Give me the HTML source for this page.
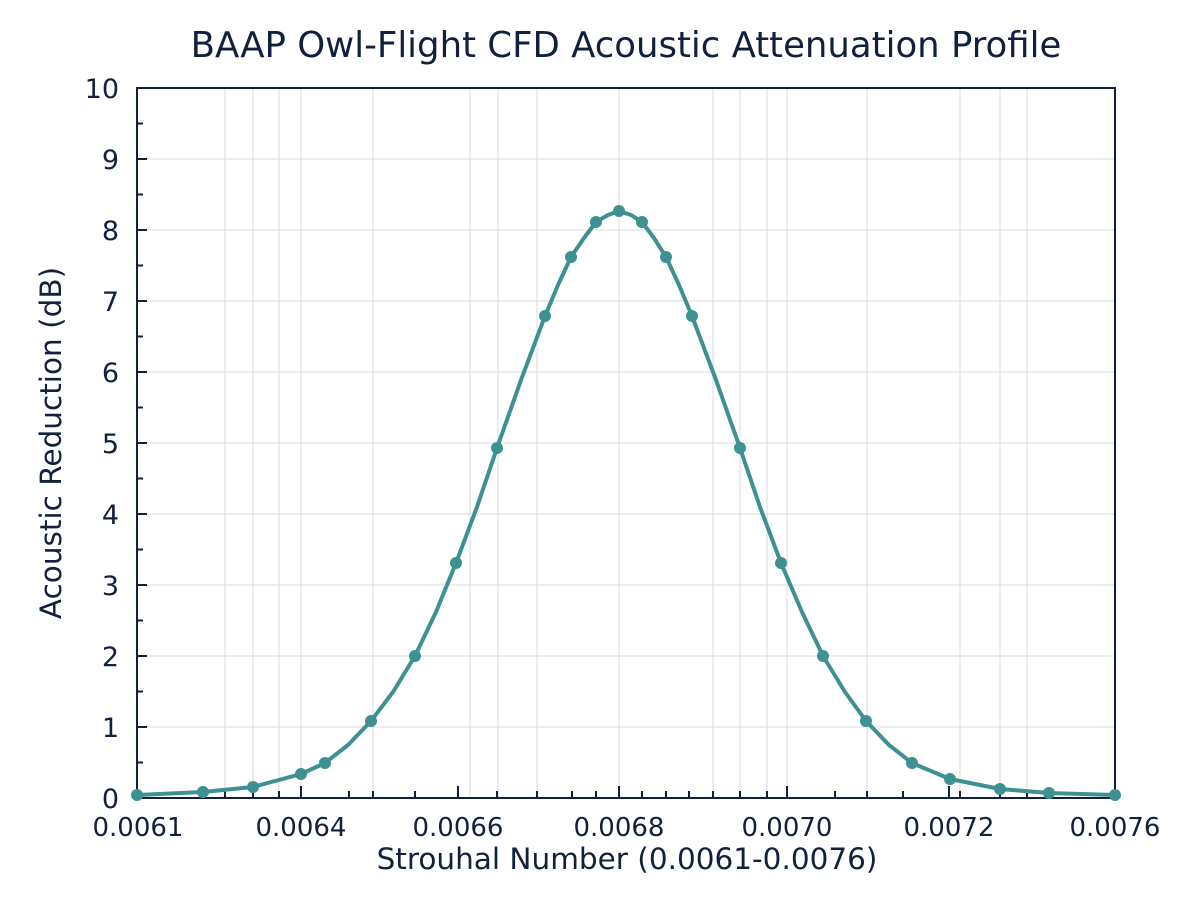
<!DOCTYPE html>
<html><head><meta charset="utf-8"><style>body{margin:0;background:#fff}</style></head><body>
<svg width="1200" height="896" xmlns="http://www.w3.org/2000/svg" font-family="DejaVu Sans, Liberation Sans, sans-serif">
<rect width="1200" height="896" fill="#fff"/>
<g stroke="#d5dde2" stroke-width="1">
<line x1="225" y1="88" x2="225" y2="798"/><line x1="253" y1="88" x2="253" y2="798"/><line x1="279" y1="88" x2="279" y2="798"/><line x1="301" y1="88" x2="301" y2="798"/><line x1="373" y1="88" x2="373" y2="798"/><line x1="470" y1="88" x2="470" y2="798"/><line x1="498" y1="88" x2="498" y2="798"/><line x1="537" y1="88" x2="537" y2="798"/><line x1="619" y1="88" x2="619" y2="798"/><line x1="713" y1="88" x2="713" y2="798"/><line x1="740" y1="88" x2="740" y2="798"/><line x1="767" y1="88" x2="767" y2="798"/><line x1="787" y1="88" x2="787" y2="798"/><line x1="867" y1="88" x2="867" y2="798"/><line x1="960" y1="88" x2="960" y2="798"/><line x1="1000" y1="88" x2="1000" y2="798"/><line x1="1027" y1="88" x2="1027" y2="798"/>
<line x1="137" y1="727" x2="1115" y2="727"/><line x1="137" y1="656" x2="1115" y2="656"/><line x1="137" y1="585" x2="1115" y2="585"/><line x1="137" y1="514" x2="1115" y2="514"/><line x1="137" y1="443" x2="1115" y2="443"/><line x1="137" y1="372" x2="1115" y2="372"/><line x1="137" y1="301" x2="1115" y2="301"/><line x1="137" y1="230" x2="1115" y2="230"/><line x1="137" y1="159" x2="1115" y2="159"/>
</g>
<rect x="137" y="88" width="978" height="710" fill="none" stroke="#13203d" stroke-width="2"/>
<g stroke="#13203d" stroke-width="2">
<path d="M137 798v-12M301 798v-12M458 798v-12M619 798v-12M787 798v-12M949 798v-12M1115 798v-12"/>
<path d="M203 798v-7M225 798v-7M253 798v-7M279 798v-7M349 798v-7M373 798v-7M415 798v-7M497 798v-7M537 798v-7M572 798v-7M596 798v-7M642 798v-7M666 798v-7M689 798v-7M713 798v-7M740 798v-7M767 798v-7M835 798v-7M867 798v-7M903 798v-7M960 798v-7M1000 798v-7M1027 798v-7"/>
<path d="M137 798h10M137 727h10M137 656h10M137 585h10M137 514h10M137 443h10M137 372h10M137 301h10M137 230h10M137 159h10M137 88h10"/>
<path d="M137 762.5h6M137 691.5h6M137 620.5h6M137 549.5h6M137 478.5h6M137 407.5h6M137 336.5h6M137 265.5h6M137 194.5h6M137 123.5h6"/>
</g>
<g fill="#13203d" font-size="27" text-anchor="end">
<text x="119" y="808">0</text><text x="119" y="737">1</text><text x="119" y="666">2</text><text x="119" y="595">3</text><text x="119" y="524">4</text><text x="119" y="453">5</text><text x="119" y="382">6</text><text x="119" y="311">7</text><text x="119" y="240">8</text><text x="119" y="169">9</text><text x="119" y="98">10</text>
</g>
<g fill="#13203d" font-size="26" text-anchor="middle">
<text x="138" y="836">0.0061</text><text x="301" y="836">0.0064</text><text x="458" y="836">0.0066</text><text x="619" y="836">0.0068</text><text x="787" y="836">0.0070</text><text x="949" y="836">0.0072</text><text x="1115" y="836">0.0076</text>
</g>
<text x="627" y="869" fill="#13203d" font-size="29.5" text-anchor="middle">Strouhal Number (0.0061-0.0076)</text>
<text transform="translate(61,443) rotate(-90)" fill="#13203d" font-size="29.5" text-anchor="middle">Acoustic Reduction (dB)</text>
<text x="626" y="57" fill="#13203d" font-size="35.5" text-anchor="middle">BAAP Owl-Flight CFD Acoustic Attenuation Profile</text>
<polyline fill="none" stroke="#3e9190" stroke-width="4" stroke-linejoin="round" points="137,795 203,792 253,787 301,774 325,763 348,745 371,721 393,692 415,656 436,612 456,563 477,507 497,448 521,380 545,316 558,285 571,257 584,238 596,222 608,215 619,211 631,215 642,222 654,238 666,257 679,285 692,316 716,380 740,448 760,507 781,563 802,612 823,656 845,692 866,721 889,745 912,763 950,779 1000,789 1049,793 1115,795"/>
<g fill="#3e9190">
<circle cx="137" cy="795" r="6"/><circle cx="203" cy="792" r="6"/><circle cx="253" cy="787" r="6"/><circle cx="301" cy="774" r="6"/><circle cx="325" cy="763" r="6"/><circle cx="371" cy="721" r="6"/><circle cx="415" cy="656" r="6"/><circle cx="456" cy="563" r="6"/><circle cx="497" cy="448" r="6"/><circle cx="545" cy="316" r="6"/><circle cx="571" cy="257" r="6"/><circle cx="596" cy="222" r="6"/><circle cx="619" cy="211" r="6"/><circle cx="642" cy="222" r="6"/><circle cx="666" cy="257" r="6"/><circle cx="692" cy="316" r="6"/><circle cx="740" cy="448" r="6"/><circle cx="781" cy="563" r="6"/><circle cx="823" cy="656" r="6"/><circle cx="866" cy="721" r="6"/><circle cx="912" cy="763" r="6"/><circle cx="950" cy="779" r="6"/><circle cx="1000" cy="789" r="6"/><circle cx="1049" cy="793" r="6"/><circle cx="1115" cy="795" r="6"/>
</g>
</svg>
</body></html>
